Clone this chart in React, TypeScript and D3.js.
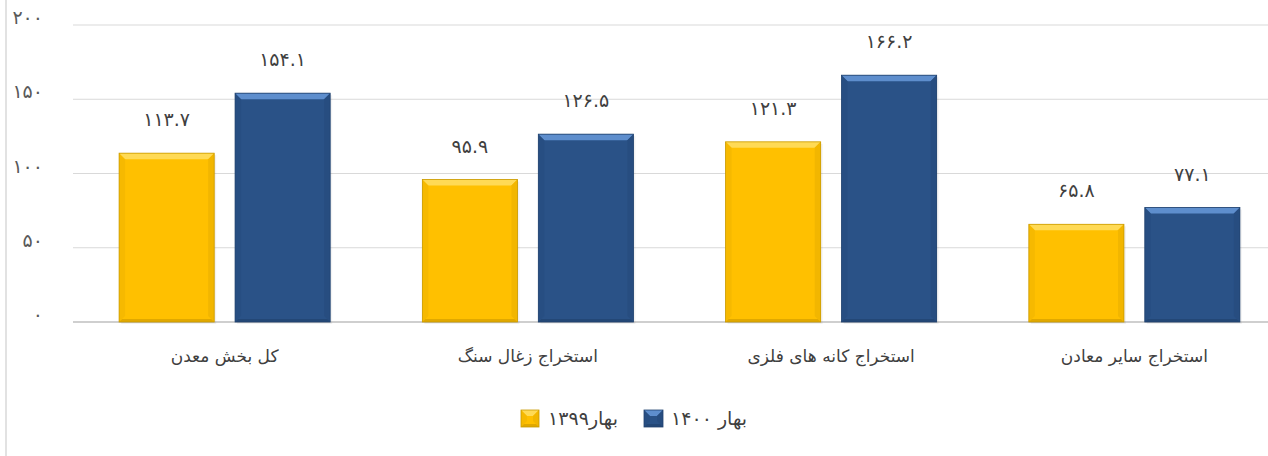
import React from 'react';
import * as d3 from 'd3';

const categories = ['کل بخش معدن', 'استخراج زغال سنگ', 'استخراج کانه های فلزی', 'استخراج سایر معادن'];
const seriesNames = ['بهار۱۳۹۹', 'بهار ۱۴۰۰'];
const values1399 = [113.7, 95.9, 121.3, 65.8];
const values1400 = [154.1, 126.5, 166.2, 77.1];
const yTicks = [0, 50, 100, 150, 200];

const W = 1268;
const H = 456;
const FONT = '"DejaVu Sans", sans-serif';

const colors = [
  { base: '#FFC000', top: '#FFDA55', side: '#F2B600', bottom: '#E0A800', stroke: '#C99A00' },
  { base: '#2A5287', top: '#5E8ECD', side: '#274D80', bottom: '#234776', stroke: '#21436F' },
];

// latin digits -> persian digits
const fa = (s: string) => s.replace(/[0-9]/g, (d) => '۰۱۲۳۴۵۶۷۸۹'[+d]);

const Bevel = ({ x, y, w, h, c }: { x: number; y: number; w: number; h: number; c: typeof colors[0] }) => {
  const b = Math.min(6, h / 2);
  return (
    <g>
      <rect x={x} y={y} width={w} height={h} fill={c.base} />
      <polygon points={`${x},${y} ${x + w},${y} ${x + w - b},${y + b} ${x + b},${y + b}`} fill={c.top} />
      <polygon points={`${x},${y} ${x + b},${y + b} ${x + b},${y + h - b} ${x},${y + h}`} fill={c.side} opacity={0.7} />
      <polygon points={`${x + w},${y} ${x + w - b},${y + b} ${x + w - b},${y + h - b} ${x + w},${y + h}`} fill={c.side} />
      <polygon points={`${x},${y + h} ${x + b / 2},${y + h - b / 2} ${x + w - b / 2},${y + h - b / 2} ${x + w},${y + h}`} fill={c.bottom} />
      <rect x={x} y={y} width={w} height={h} fill="none" stroke={c.stroke} strokeWidth={0.8} />
    </g>
  );
};

export default function App() {
  const x0 = d3.scaleBand<string>().domain(categories).range([73, 1286]).paddingInner(0.304).paddingOuter(0.152);
  const x1 = d3.scaleBand<string>().domain(seriesNames).range([0, x0.bandwidth()]).paddingInner(0.18);
  const y = d3.scaleLinear().domain([0, 200]).range([322, 25]);
  const series = [values1399, values1400];

  return (
    <svg width={W} height={H} style={{ position: 'absolute', left: 0, top: 0, background: '#fff' }} fontFamily={FONT}>
      <line x1={6} x2={6} y1={0} y2={H} stroke="#d9d9d9" strokeWidth={1.5} />
      {yTicks.map((t) => (
        <g key={t}>
          <line x1={73} x2={W} y1={y(t)} y2={y(t)} stroke={t === 0 ? '#cfcfcf' : '#d9d9d9'} strokeWidth={t === 0 ? 2 : 1.2} />
          <text x={43} y={y(t)} dy="-0.05em" textAnchor="end" fontSize={19} fill="#595959">
            {fa(String(t))}
          </text>
        </g>
      ))}
      {categories.map((cat, i) => (
        <g key={cat}>
          {series.map((vals, s) => {
            const bx = (x0(cat) as number) + (x1(seriesNames[s]) as number);
            const by = y(vals[i]);
            const bw = x1.bandwidth();
            return (
              <g key={s}>
                <rect x={bx + 2} y={by + 2} width={bw} height={y(0) - by} fill="#000" opacity={0.05} />
                <Bevel x={bx} y={by} w={bw} h={y(0) - by} c={colors[s]} />
                <text x={bx + bw / 2} y={by - 34} dominantBaseline="central" textAnchor="middle" fontSize={19} fill="#404040">
                  {fa(vals[i].toFixed(1))}
                </text>
              </g>
            );
          })}
          <text x={(x0(cat) as number) + x0.bandwidth() / 2} y={356} dominantBaseline="central" textAnchor="middle" fontSize={17} fill="#404040" direction="rtl">
            {cat}
          </text>
        </g>
      ))}
      {/* legend */}
      <Bevel x={521} y={410} w={18} h={17} c={colors[0]} />
      <text x={583} y={418} dominantBaseline="central" textAnchor="middle" fontSize={19} fill="#404040" direction="rtl">
        {seriesNames[0]}
      </text>
      <Bevel x={644} y={410} w={19} h={17} c={colors[1]} />
      <text x={709} y={418} dominantBaseline="central" textAnchor="middle" fontSize={19} fill="#404040" direction="rtl">
        {seriesNames[1]}
      </text>
    </svg>
  );
}
